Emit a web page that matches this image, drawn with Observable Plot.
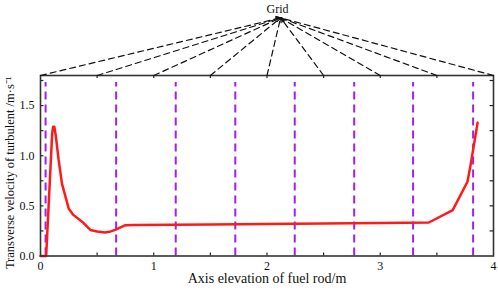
<!DOCTYPE html>
<html><head><meta charset="utf-8">
<script src="https://cdn.jsdelivr.net/npm/d3@7"></script>
<script src="https://cdn.jsdelivr.net/npm/@observablehq/plot@0.6"></script>
<style>
html,body{margin:0;padding:0;background:#fff;}
svg{display:block;}
</style>
</head><body>
<div id="chart"></div>
<script>
// Red curve: axis elevation (m) vs transverse velocity (m/s)
const elevation = [0, 0.05, 0.103, 0.112, 0.122, 0.135, 0.16, 0.19, 0.25, 0.29, 0.37, 0.44, 0.5, 0.57, 0.62, 0.66, 0.75, 0.84, 1.5, 2.0, 2.5, 3.0, 3.43, 3.64, 3.77, 3.795, 3.86];
const velocity  = [0, 0,    1.22,  1.29,  1.29,  1.20,  0.96, 0.72, 0.47, 0.41, 0.34, 0.26, 0.245, 0.234, 0.245, 0.26, 0.307, 0.31, 0.315, 0.32, 0.325, 0.33, 0.334, 0.457, 0.74, 0.89, 1.33];
// Grid spacer positions (m)
const gridPositions = [0.045, 0.668, 1.194, 1.72, 2.245, 2.77, 3.29, 3.82];
const gridTop = 1.73;
// Tick values
const xTickLabels = [0, 1, 2, 3, 4];
const xMinorTicks = [0.5, 1, 1.5, 2, 2.5, 3, 3.5];
const yTickLabels = [0, 0.5, 1.0, 1.5];
const yMinorTicks = [0.25, 0.5, 0.75, 1.0, 1.25, 1.5, 1.75];
// Annotation: "Grid" with dashed arrows from top-axis ticks
const arrowStarts = [0, 0.5, 1, 1.5, 2, 2.5, 3, 3.5, 4];
const gridLabel = "Grid";
const apexX = 2.12, apexY = 2.375;

const xDomain = [0, 4], yDomain = [0, 1.8];
const curve = elevation.map((x, i) => ({x, v: velocity[i]}));
const font = "'Liberation Serif', 'Times New Roman', serif";

const plot = Plot.plot({
  width: 498, height: 290,
  marginTop: 75, marginBottom: 34.5, marginLeft: 40, marginRight: 5,
  style: {fontFamily: font, fontSize: "12px", color: "#111", background: "#fff"},
  x: {domain: xDomain},
  y: {domain: yDomain},
  marks: [
    Plot.ruleX(gridPositions, {x: d => d, y1: 0, y2: gridTop, stroke: "#a020f0", strokeWidth: 2, strokeDasharray: "8,5"}),
    Plot.line(curve, {x: "x", y: "v", stroke: "#ff1a1a", strokeWidth: 2.5, strokeLinejoin: "round"}),
    // inward ticks
    Plot.ruleX(xMinorTicks, {x: d => d, y1: 0, y2: 0.03, stroke: "#222", strokeWidth: 1.2}),
    Plot.ruleX(xMinorTicks, {x: d => d, y1: 1.8, y2: 1.77, stroke: "#222", strokeWidth: 1.2}),
    Plot.ruleY(yMinorTicks, {y: d => d, x1: 0, x2: 0.03, stroke: "#222", strokeWidth: 1.2}),
    Plot.ruleY(yMinorTicks, {y: d => d, x1: 4, x2: 3.97, stroke: "#222", strokeWidth: 1.2}),
    Plot.frame({stroke: "#333", strokeWidth: 1.6}),
    Plot.axisX(xTickLabels, {tickSize: 0, tickPadding: 5, label: null, tickFormat: d => String(d), fontSize: 12}),
    Plot.axisY(yTickLabels, {tickSize: 0, tickPadding: 6, label: null, tickFormat: d3.format(".1f"), fontSize: 12}),
    Plot.text(["Axis elevation of fuel rod/m"], {frameAnchor: "bottom", dy: 27, fontSize: 14, fill: "#111"}),
    Plot.text(["Transverse velocity of turbulent /m·s⁻¹"], {frameAnchor: "left", textAnchor: "middle", rotate: -90, dx: -31, dy: 7, fontSize: 12.5, fill: "#111"}),
    // annotation
    Plot.arrow(arrowStarts, {x1: d => d, y1: 1.8, x2: apexX, y2: apexY, stroke: "#111", strokeWidth: 1.2, strokeDasharray: "6,4", headLength: 6, insetStart: 0, insetEnd: 0}),
    Plot.text([gridLabel], {x: apexX, frameAnchor: "top", dy: -71, dx: -3, fontSize: 12, fill: "#111"})
  ]
});
document.getElementById("chart").appendChild(plot);
</script>
</body></html>
